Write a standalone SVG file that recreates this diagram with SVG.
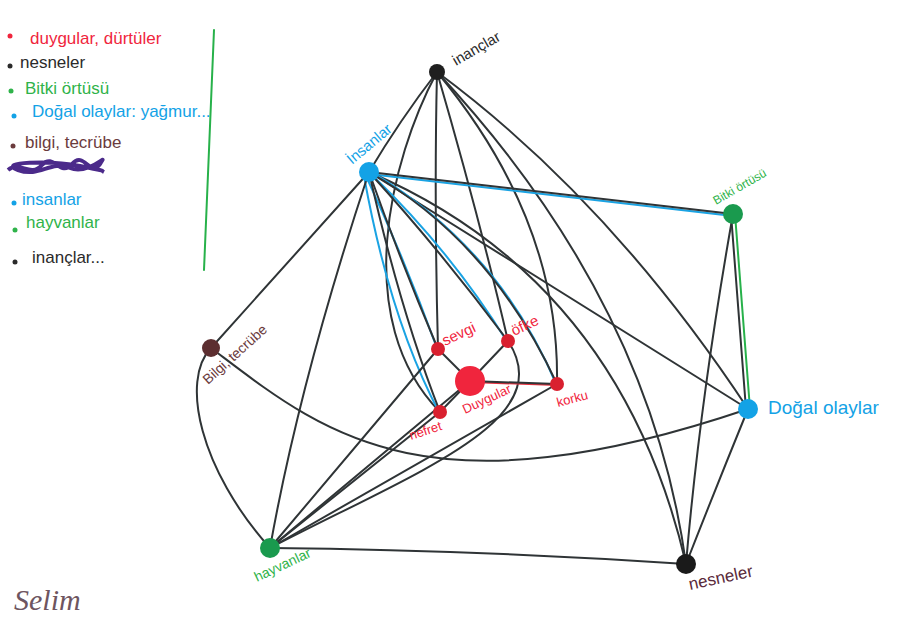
<svg xmlns="http://www.w3.org/2000/svg" width="900" height="640" viewBox="0 0 900 640">
<style>
text{font-family:"Liberation Sans","DejaVu Sans",sans-serif;}
.e{fill:none;stroke:#2f3436;stroke-width:2;stroke-linecap:round}
.b{fill:none;stroke:#1aa3e3;stroke-width:2;stroke-linecap:round}
.g{fill:none;stroke:#27b14a;stroke-width:2;stroke-linecap:round}
.r{fill:none;stroke:#e8303f;stroke-width:2;stroke-linecap:round}
.red{fill:#f0253d}
.blu{fill:#13a2e6}
.grn{fill:#2fb34a}
.brn{fill:#6b3b3d}
.blk{fill:#2a2a2a}
.lg{font-size:17px}
.nl{font-size:15px}
</style>
<rect width="900" height="640" fill="#ffffff"/>

<g id="legend">
<circle cx="10" cy="36" r="2.5" class="red"/><text x="30" y="44" class="lg red">duygular, dürtüler</text>
<circle cx="10" cy="66" r="2.5" class="blk"/><text x="20" y="68" class="lg blk">nesneler</text>
<circle cx="11" cy="91" r="2.5" class="grn"/><text x="25" y="94" class="lg grn">Bitki örtüsü</text>
<circle cx="14" cy="116" r="2.5" class="blu"/><text x="32" y="117" class="lg blu">Doğal olaylar: yağmur...</text>
<circle cx="13" cy="146" r="2.5" class="brn"/><text x="25" y="148" class="lg brn">bilgi, tecrübe</text>
<path d="M8,170 C20,160 30,178 42,165 S60,178 72,164 S90,178 100,164 S90,176 70,168 S40,178 18,170 S50,160 80,166 S100,170 104,172" fill="none" stroke="#4b2a8a" stroke-width="4"/>
<circle cx="14" cy="203" r="2.5" class="blu"/><text x="22" y="205" class="lg blu">insanlar</text>
<circle cx="15" cy="230" r="2.5" class="grn"/><text x="26" y="228" class="lg grn">hayvanlar</text>
<circle cx="15" cy="262" r="2.5" class="blk"/><text x="32" y="263" class="lg blk">inançlar...</text>
<path d="M214,30 L204,270" class="g"/>
</g>

<g id="connectors">
<!-- inançlar -->
<path class="e" d="M437,72 Q400,120 369,172"/>
<path class="e" d="M437,72 Q434,200 438,349"/>
<path class="e" d="M437,72 Q480,220 508,341"/>
<path class="e" d="M437,72 Q560,220 557,384"/>
<path class="e" d="M437,72 C390,160 350,320 440,412"/>
<path class="e" d="M437,72 Q610,200 748,409"/>
<path class="e" d="M437,72 Q650,300 686,564"/>
<!-- İnsanlar -->
<path class="b" d="M369,174 L733,216"/>
<path class="e" d="M369,172 L733,214"/>
<path class="e" d="M369,172 L748,409"/>
<path class="e" d="M369,172 Q620,280 686,564"/>
<path class="b" d="M366,176 Q405,260 438,351"/>
<path class="e" d="M369,172 Q400,260 438,349"/>
<path class="b" d="M373,176 Q450,250 508,343"/>
<path class="e" d="M369,172 Q440,250 508,341"/>
<path class="b" d="M375,174 Q500,250 557,386"/>
<path class="e" d="M369,172 Q490,240 557,384"/>
<path class="b" d="M364,176 Q390,320 440,414"/>
<path class="e" d="M369,172 Q400,310 440,412"/>
<path class="e" d="M369,172 L211,348"/>
<path class="e" d="M369,172 Q300,380 270,548"/>
<!-- Bitki örtüsü -->
<path class="g" d="M735,214 L750,409"/>
<path class="e" d="M731,214 L746,409"/>
<path class="e" d="M733,214 Q700,400 686,564"/>
<!-- Doğal olaylar -->
<path class="e" d="M748,409 Q715,490 686,564"/>
<!-- Bilgi, tecrübe -->
<path class="e" d="M211,348 C180,380 200,470 270,548"/>
<path class="e" d="M211,348 C320,430 420,520 748,409"/>
<!-- hayvanlar -->
<path class="e" d="M270,548 Q480,550 686,564"/>
<path class="e" d="M270,548 L438,349"/>
<path class="e" d="M270,548 L440,412"/>
<path class="e" d="M270,548 L470,381"/>
<path class="e" d="M270,548 L557,384"/>
<path class="e" d="M270,548 C420,470 560,420 508,341"/>
<!-- Duygular -->
<path class="e" d="M470,381 L438,349"/>
<path class="e" d="M470,381 L508,341"/>
<path class="r" d="M470,382 L557,385"/>
<path class="e" d="M470,381 L557,384"/>
<path class="e" d="M470,381 L440,412"/>
</g>

<g id="n-inanclar"><circle cx="437" cy="72" r="8" fill="#1f1f1f"/><text class="nl blk" transform="translate(456,66) rotate(-30)">inançlar</text></g>
<g id="n-insanlar"><circle cx="369" cy="172" r="10" class="blu"/><text class="nl blu" transform="translate(352,165) rotate(-40)">İnsanlar</text></g>
<g id="n-bitki"><circle cx="733" cy="214" r="10" fill="#1a9a4e"/><text class="blu" style="fill:#2fb34a;font-size:12px" transform="translate(716,205) rotate(-30)">Bitki örtüsü</text></g>
<g id="n-dogal"><circle cx="748" cy="409" r="10" class="blu"/><text class="blu" style="font-size:19px" x="768" y="414">Doğal olaylar</text></g>
<g id="n-nesneler"><circle cx="686" cy="564" r="10" fill="#1a1a1a"/><text style="fill:#5a2a3a;font-size:17px" transform="translate(690,590) rotate(-12)">nesneler</text></g>
<g id="n-hayvanlar"><circle cx="270" cy="548" r="10" fill="#1a9a4e"/><text class="grn" style="font-size:14px" transform="translate(257,582) rotate(-25)">hayvanlar</text></g>
<g id="n-bilgi"><circle cx="211" cy="348" r="9" fill="#5c2e30"/><text class="brn" style="font-size:14px" transform="translate(208,385) rotate(-42)">Bilgi, tecrübe</text></g>
<g id="n-sevgi"><circle cx="438" cy="349" r="7" fill="#d9202f"/><text class="red nl" transform="translate(445,346) rotate(-25)">sevgi</text></g>
<g id="n-ofke"><circle cx="508" cy="341" r="7" fill="#d9202f"/><text class="red nl" transform="translate(514,336) rotate(-25)">öfke</text></g>
<g id="n-korku"><circle cx="557" cy="384" r="7" fill="#d9202f"/><text class="red" style="font-size:13px" transform="translate(558,407) rotate(-15)">korku</text></g>
<g id="n-nefret"><circle cx="440" cy="412" r="7" fill="#d9202f"/><text class="red" style="font-size:13px" transform="translate(411,440) rotate(-18)">nefret</text></g>
<g id="n-duygular"><circle cx="470" cy="381" r="15" class="red"/><text class="red" style="font-size:13px" transform="translate(465,414) rotate(-25)">Duygular</text></g>

<g id="signature"><text x="14" y="610" style="font-family:'Liberation Serif',serif;font-style:italic;font-size:30px;fill:#6e5560">Selim</text></g>
</svg>
